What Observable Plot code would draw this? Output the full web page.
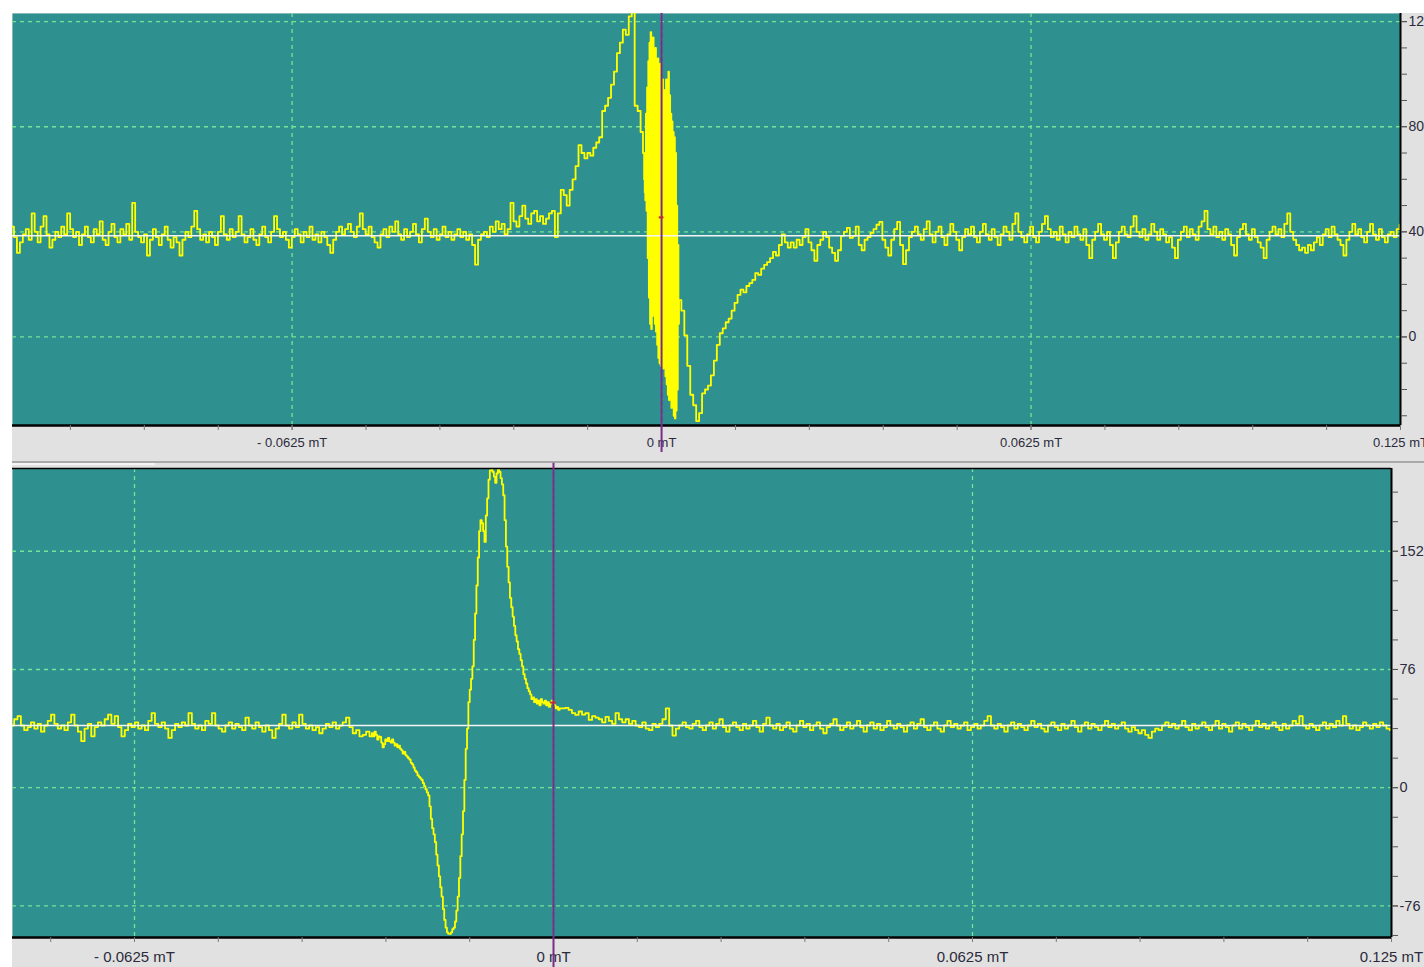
<!DOCTYPE html>
<html>
<head>
<meta charset="utf-8">
<script src="https://cdn.jsdelivr.net/npm/d3@7"></script>
<script src="https://cdn.jsdelivr.net/npm/@observablehq/plot@0.6"></script>
<style>
  html, body { margin: 0; padding: 0; background: #ffffff; overflow: hidden; width: 1424px; height: 967px; }
  #top { position: absolute; left: 12px; top: 13px; }
  #bottom { position: absolute; left: 12px; top: 461px; border-top: 2px solid #a9a9a9; }
  #strip { position: absolute; left: 12px; top: 463px; width: 143px; height: 2px; background: #f4f4f4; z-index: 2; }
  svg { display: block; }
</style>
</head>
<body>
<div id="top"></div>
<div id="bottom"></div>
<div id="strip"></div>
<script>
// ---------- data (mT on x, signal on y) ----------
const STEP = 0.0005;          // sampling step of the noise segments (mT)
const FINE_STEP = 0.0001;     // sampling of the top burst (mT)
const MID_STEP = 0.0002;      // sampling of the bottom resonance (mT)

// top panel
const topLeftStart = -0.1098;
const topLeft = [
42,38,32,36,39,41,37,47,40,36,42,46,39,34,37,40,38,42,39,47,
41,38,40,35,39,42,38,36,41,39,44,37,35,40,43,38,36,41,39,43,
37,51,40,38,36,39,31,37,41,38,35,39,42,37,34,38,36,31,37,40,
38,42,48,41,37,39,36,40,38,35,40,46,39,37,41,38,40,46,39,36,
38,41,37,35,39,42,38,36,40,46,41,38,40,37,34,38,41,39,36,40,
38,42,37,39,36,40,38,35,32,37,40,42,39,41,43,40,38,42,47,41,
39,42,38,36,34,39,41,38,42,40,44,39,37,41,38,40,43,39,36,41,
45,40,38,41,37,39,42,38,40,37,39,41,38,40,37,39,35,27.5,37,39,
40,38,42,40,44,41,43,39,41,51,44,42,46,50,45,43,47,48,44,46,
43,45,47,48,38,47,56,54,50,56,60,65,73,70,68,70,69,72,74,76,
86,88,91,96,101,108,112,117,115,122,123.5,88,86,78
];
const topBurstStart = -0.0030;
const topBurst = [
70,60,55,52,85,48,95,30,105,15,112,5,116,3,110,8,114,12,108,5,
110,2,100,-3,106,-8,96,-10,104,-11,92,-6,98,-12,88,-8,94,-15,98,-18,
90,-22,101,-24,92,-20,85,-27,82,-25,78,-30,76,-31,70,-28,50,-20,35,5,14
];
const topRightStart = 0.0031;
const topRight = [
14,10,0.6,-11,-22,-26,-32,-29,-21.5,-20,-18.5,-14.6,-9,-3,1.4,3.3,5.6,7,10,13,
16,18,17,19.4,20.5,21.7,24.3,23.6,26,27.4,28.5,30,32.4,31,35,39,36,34,36,34,
37,35,38,41,36,33,29,35,37,40,38,34,32,29,33,38.5,40,41.5,37.7,38.5,
42,35,33,37,38,39.6,41,42.7,43.8,37,34,31,37,41,43.8,35,27.7,33,38,
40,42,39,37,41,44,39,36,40,42,38,35,39,43,40,37,33,38,41,39,
42,38,36,40,43,39,37,41,38,35,39,42,40,37,43,47,40,38,36,39,
42,38,36,40,43,46,41,38,40,37,42,39,36,40,38,42,39,37,41,35,
30,37,40,43,39,37,40,35,30,36,40,42,39,38,42,46,40,38,41,37,
39,43,40,37,41,39,36,38,34,30,37,40,42,38,41,39,37,42,44,48,
41,39,42,38,40,37,41,39,35,31,38,41,43,39,37,41,38,36,34,30,
37,40,42,39,41,38,43,47,40,37,35,33,34,32,35,33,36,38,35,39,
41,38,42,39,37,35,31,37,40,43,39,41,38,36,40,43,39,37,41,38,
36,39,40,38,41,42.7
];
const topBaseline = 38.5;
const topCursor = 0;
const topCursorMark = 45.5;

// bottom panel
const botLeftStart = -0.0807;
const botLeft = [
40,44,46,40,37,39,42,38,41,36,40,43,47,41,38,40,37,42,47,40,
36,30,38,41,33,39,42,40,44,47,41,46,39,33,37,41,39,42,38,40,
37,43,48,41,39,42,38,32,37,41,39,42,40,48,41,38,40,37,43,41,
48,40,38,36,40,42,38,41,39,37,45,40,38,42,39,36,40,37,32,38,
41,47,40,38,42,39,47,41,38,40,37,39,35,38,41,39,42,38,40,42,
45,39,35,37,33,34,36,33
];
const botMidStart = -0.0270;
const botMid = [
35,33,36,34,31,33,32.6,29,26,28,31,30,32,30,29,31,29,27,28,26,
27,25,24,22,23,21,20,19,18,16,15,13,11,10,8,7,6,5,3,1,
-1,-3,-5,-12,-20,-26,-30,-35,-43,-50,-57,-64,-70,-78,-85,-90,-93,-94,-94,-93,
-91,-90,-86,-79,-70,-58,-44,-30,-15,5,25,38,55,63,70,78,95,112,130,148,
165,172,170,165,158,175,186,198,204,205,203,200,196,202,205,203,199,195,188,172,
155,142,132,122,116,110,104,98,94,89,86,82,78,73,70,67,64,62,60,57,
58,55,57,54,56,53,57,55,54,56,53,55,52,54,56,55,53,51,52,50,51
];
const botRightStart = 0.0015;
const botRight = [
51,51.3,50,48,46.8,49,47,48,43.6,46,45,44,42,45.5,43,41,48,44,42,44,
41,43,40,39,42,38,37,41,39,41,44,51,40,33.5,38,40,42,39,38,41,
43,39,37,40,42,38,41,44,39,36,40,42,39,37,41,38,40,43,39,36,
41,45,40,38,41,37,39,42,38,36,40,43,39,41,37,40,42,38,35,39,
41,44,40,37,39,42,38,40,43,39,36,40,42,38,41,37,39,43,40,38,
41,39,36,40,42,38,41,44,39,37,40,42,38,36,40,43,39,41,38,40,
42,37,39,41,38,40,43,46,40,38,41,39,36,40,42,38,41,39,37,40,
43,39,41,38,36,40,42,39,37,41,38,40,43,39,36,40,42,38,41,39,
37,40,43,39,41,38,40,42,38,36,39,37,35,37,34,32,36,38,37,40,
42,39,41,38,40,43,39,37,41,38,40,42,39,37,40,43,38,41,39,36,
40,42,38,41,39,37,40,43,39,41,38,40,42,39,37,41,38,40,43,41,
46,40,38,41,39,37,40,42,38,41,39,43,40,46,41,38,40,37,39,42,
40,38,41,39,42,40,38,37
];
const botBaseline = 40;
const botCursor = 0;
const botCursorMark = 54.7;

// axis ticks and labels
const xMajor = [-0.0625, 0, 0.0625, 0.125];
const xLabels = ["- 0.0625 mT", "0 mT", "0.0625 mT", "0.125 mT"];
const topYMajor = [0, 40, 80, 120];
const botYMajor = [-76, 0, 76, 152];
const topYMinorStep = 10;
const botYMinorStep = 19;
const xMinorStep = 0.0125;

// ---------- style ----------
const TEAL = "#2f918f";
const GRID = "#74e596";
const YELLOW = "#ffff00";
const PURPLE = "#7a2c88";
const LABEL = "#2b2b3b";
const GRAYBG = "#e1e1e1";

function segment(start, step, values) {
  return values.map((v, i) => ({x: start + i * step, y: v}));
}
const xLabelMap = new Map(xMajor.map((d, i) => [d, xLabels[i]]));

function panel({data, xDomain, yDomain, yMajor, yMinorStep, baseline, cursor, cursorMark,
                width, height, mr, mt, mb, xFont, xPad, yFont, cursorY1, cursorY2}) {
  const xMinor = d3.range(Math.ceil(xDomain[0] / xMinorStep), Math.floor(xDomain[1] / xMinorStep + 1e-9) + 1)
    .map(k => +(k * xMinorStep).toFixed(6));
  const yMinor = d3.range(Math.ceil(yDomain[0] / yMinorStep), Math.floor(yDomain[1] / yMinorStep) + 1)
    .map(k => k * yMinorStep);
  const gridXs = xMajor.filter(d => d > xDomain[0] && d < xDomain[1]);
  return Plot.plot({
    width, height,
    marginLeft: 0, marginRight: mr, marginTop: mt, marginBottom: mb,
    style: {background: GRAYBG, overflow: "visible", fontFamily: "'Liberation Sans', Arial, sans-serif"},
    x: {domain: xDomain, label: null},
    y: {domain: yDomain, label: null},
    marks: [
      Plot.frame({fill: TEAL, stroke: null}),
      Plot.ruleX(gridXs, {stroke: GRID, strokeDasharray: "4,4", strokeWidth: 1.3}),
      Plot.ruleY(yMajor, {stroke: GRID, strokeDasharray: "4,4", strokeWidth: 1.3}),
      Plot.line(data, {x: "x", y: "y", stroke: YELLOW, strokeWidth: 1.8, curve: "step", clip: true}),
      Plot.ruleY([baseline], {stroke: "#f4f4f4", strokeWidth: 1.6}),
      Plot.ruleX([xDomain[1]], {stroke: "#000", strokeWidth: 2}),
      Plot.ruleY([yDomain[0]], {stroke: "#000", strokeWidth: 2.5}),
      ...(mt > 0 ? [Plot.ruleY([yDomain[1]], {stroke: "#000", strokeWidth: 1.5})] : []),
      Plot.axisX(xMinor, {tickSize: 5, stroke: "#7a7a7a", tickFormat: () => ""}),
      Plot.axisX(xMajor, {tickSize: 5, stroke: "#7a7a7a", tickPadding: xPad, fontSize: xFont,
                          fill: LABEL, tickFormat: d => xLabelMap.get(d)}),
      Plot.axisY(yMinor, {anchor: "right", tickSize: 6, stroke: "#555", tickFormat: () => ""}),
      Plot.axisY(yMajor, {anchor: "right", tickSize: 6, stroke: "#555", tickPadding: 2, fontSize: yFont,
                          fill: LABEL, tickFormat: d => String(d)}),
      Plot.ruleX([cursor], {y1: cursorY1, y2: cursorY2, stroke: PURPLE, strokeWidth: 2}),
      Plot.ruleY([cursorMark], {x1: cursor - 0.0004, x2: cursor + 0.0004, stroke: "#c8203c", strokeWidth: 2})
    ]
  });
}

const topData = [
  ...segment(topLeftStart, STEP, topLeft),
  ...segment(topBurstStart, FINE_STEP, topBurst),
  ...segment(topRightStart, STEP, topRight)
];
const botData = [
  ...segment(botLeftStart, STEP, botLeft),
  ...segment(botMidStart, MID_STEP, botMid),
  ...segment(botRightStart, STEP, botRight)
];

document.getElementById("top").append(panel({
  data: topData, xDomain: [-0.1098, 0.125], yDomain: [-33.7, 123.1],
  yMajor: topYMajor, yMinorStep: topYMinorStep, baseline: topBaseline,
  cursor: topCursor, cursorMark: topCursorMark,
  width: 1412, height: 448, mr: 24, mt: 0, mb: 36, xFont: 13, xPad: 7, yFont: 14,
  cursorY1: -44, cursorY2: 123.1
}));
document.getElementById("bottom").append(panel({
  data: botData, xDomain: [-0.0807, 0.125], yDomain: [-96.3, 205.2],
  yMajor: botYMajor, yMinorStep: botYMinorStep, baseline: botBaseline,
  cursor: botCursor, cursorMark: botCursorMark,
  width: 1412, height: 504, mr: 33, mt: 5, mb: 30, xFont: 15, xPad: 9, yFont: 14.5,
  cursorY1: -116, cursorY2: 208.5
}));
</script>
</body>
</html>
